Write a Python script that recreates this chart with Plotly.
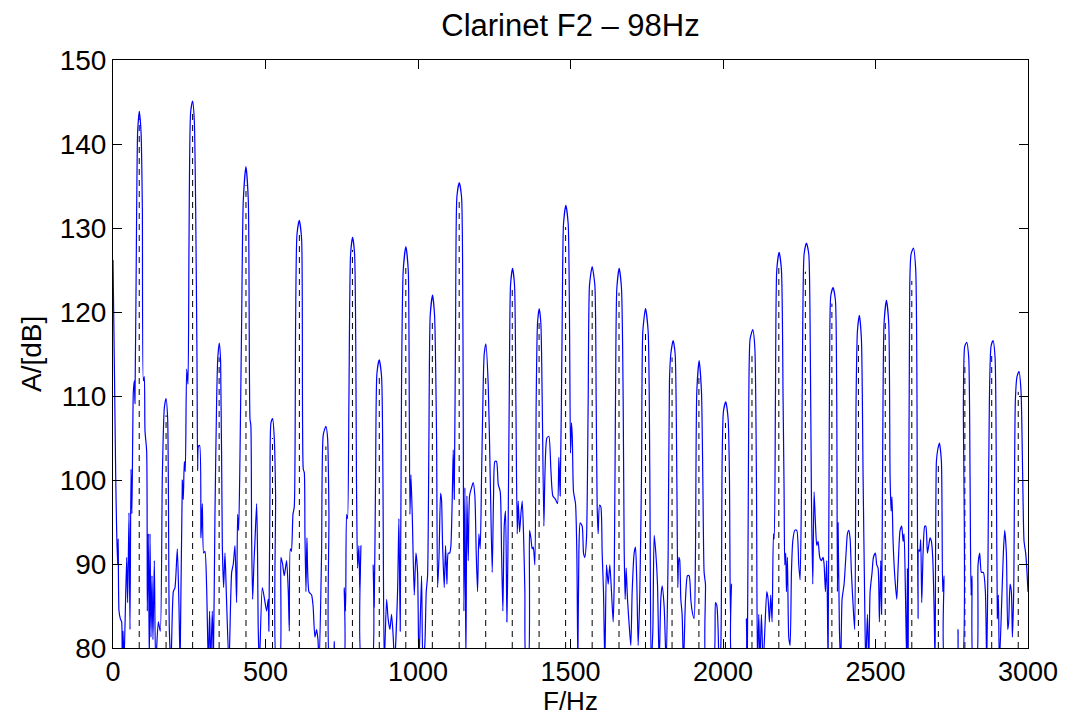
import plotly.graph_objects as go

# ---- data ----
TITLE = "Clarinet F2 \u2013 98Hz"
X_LABEL = "F/Hz"
Y_LABEL = "A/[dB]"

# spectrum curve (Hz, dB); values below 80 dB run off the bottom of the axis
freq = [
    0, 5, 9, 12, 15, 17, 19.7, 24, 28.4, 30, 33, 36, 44.8, 48, 52.5, 55.7, 59, 62, 66.7, 70, 72,
    77.6, 80.9, 86.3, 91.8, 96.2, 99.4, 102.7, 104.9, 110.4, 112.5, 115.8, 119.1, 121.3, 124.6,
    127.8, 131, 135.5, 139.9, 148.6, 155, 161.7, 168.3, 173.8, 179.2, 184.7, 190, 197.8, 203.2,
    210.9, 216.3, 220, 227.3, 230.5, 233.8, 237, 241.5, 245.8, 249.1, 254.6, 261.1, 266.6, 271,
    275.3, 277.5, 280, 284.1, 288.4, 292.8, 297.2, 301.5, 307, 312.5, 316.8, 320, 325.6, 329,
    334.3, 339.8, 343.5, 348.5, 352.9, 358.4, 362.7, 367.1, 372, 380.2, 389, 394.4, 399.9, 405.3,
    408.6, 412, 416.3, 421.7, 427.2, 435.9, 443.6, 449.1, 452, 454.5, 457.8, 462, 465.4, 471, 474,
    476, 480,
    489.4, 496, 503.6, 509, 511, 514.6, 517.8, 523.3, 528.8, 533.1, 536.4, 546, 550.6, 556, 561.5,
    569.2, 574.7, 578, 581.2, 585, 590, 594.3, 598.7, 603.1, 610.7, 618.4, 623.8, 627.1, 629.3,
    632.6, 635.8, 642.4, 651.1, 656, 662, 667.5, 672, 676, 683.9, 689.4, 698.1, 703.6, 708, 711.2,
    722, 725.4, 730, 755, 758.2, 762.6, 765.8, 769, 773.5, 779, 785.5, 792.1, 798.6, 801.9, 806.3,
    809.5, 812.8, 817.2, 847, 853.2, 856.5, 860.9, 865.3, 872.9, 880.6, 885, 889.3, 897, 902,
    907.9, 913.3, 918.8, 923, 933, 937.4, 941.7, 946.1, 951.6, 960.3, 968, 970.2, 973.5, 976.8,
    981.1, 987.7, 993.2, 998.6,
    1003, 1011.7, 1016, 1022.6, 1027, 1031.4, 1035.8, 1040.1, 1047.8, 1054.3, 1060.9, 1064.2, 1069,
    1074, 1077, 1080.6, 1086, 1090.4, 1094.8, 1099.1, 1104, 1107.9, 1112.2, 1115.5, 1118.8,
    1123.2, 1127.5, 1135.2, 1142.8, 1147.2, 1150.5, 1153.8, 1157, 1160.3, 1164.7, 1169, 1175.6,
    1181, 1186.5, 1190.9, 1195.3, 1199.6, 1204, 1208.4, 1213.8, 1217.1, 1222.6, 1230.2, 1236.8,
    1243.3, 1247.7, 1252.1, 1257.5, 1263, 1269.6, 1274, 1278.3, 1282.7, 1287, 1291.4, 1294.7,
    1299.1, 1303.4, 1310, 1316.5, 1320.9, 1325.3, 1328.6, 1333, 1337.3, 1341.7, 1346, 1350.4,
    1354.8, 1361, 1365.7, 1370.1, 1374.4, 1378, 1383.2, 1387.5, 1391.9, 1397.4, 1402.8, 1407.2,
    1412.7, 1416, 1422.5, 1429, 1435.6, 1442.2, 1450.9, 1457.5, 1461.8, 1466.2,
    1472.7, 1477.1, 1484.8, 1492.4, 1496.8, 1500.1, 1503.3, 1506, 1509.9, 1516.4, 1520.8, 1524.1,
    1527.4, 1531.7, 1538.3, 1542.7, 1547, 1552.5, 1558, 1562.3, 1571, 1579.8, 1584.2, 1587.4,
    1590.7, 1595.1, 1599.5, 1603.8, 1608.2, 1612.6, 1618, 1623.5, 1629, 1634.4, 1639.9, 1643.2,
    1647.5, 1651.9, 1659.6, 1667.2, 1672.7, 1676, 1679.2, 1682.5, 1686.9, 1693.4, 1697.8, 1702.2,
    1708.7, 1713.1, 1717.5, 1721.8, 1727.3, 1732.8, 1737.1, 1745.9, 1754.6, 1760.1, 1764.4,
    1769.9, 1774.3, 1779.7, 1785.2, 1790.7, 1796.1, 1800.5, 1807.1, 1813.6, 1820.2, 1824.5,
    1828.9, 1836.5, 1843.1, 1848.6, 1851.8, 1855.1, 1858, 1861.7, 1866, 1870.4, 1877, 1883.5,
    1889, 1894.4, 1898.8, 1905.4, 1909.7, 1914.1, 1921.8, 1929.4, 1933.8, 1938.1, 1942.5, 1945.8,
    1967.6, 1975.3, 1980, 1984, 1987.3, 1992.7, 1997.1, 2001.5, 2009.1, 2016.8, 2021.1, 2024.4,
    2027.7, 2032, 2071.4, 2076.9, 2080.1, 2084.5, 2088.9, 2097.6, 2104.2, 2109.6, 2112.9, 2117.3,
    2121, 2126, 2131.5, 2137, 2143.5, 2147.9, 2152.2, 2156.6, 2161, 2165.4, 2168, 2171.9, 2176.3,
    2184, 2191.6, 2197, 2200.3, 2202.5, 2205.8, 2208, 2211.2, 2215.6, 2220, 2224.4, 2228.7,
    2235.3, 2241.8, 2248.4, 2252.8, 2257.1, 2261.5, 2265.9, 2273.5, 2281.2, 2285.5, 2289.9,
    2294.3, 2298.6, 2303, 2307.4, 2311.7, 2317.2, 2322.7, 2328.1, 2331.4, 2335.8, 2340.2, 2344.5,
    2348.9, 2353.3, 2360.9, 2368.6, 2372.9, 2375.1, 2377.3, 2381.7, 2386, 2390.4, 2397, 2403.5,
    2407.9, 2412.3, 2416.6, 2421, 2427.6, 2431.9, 2436.3, 2440.7, 2447.2, 2453.8, 2459.3,
    2464.8, 2468, 2473.5, 2477.9, 2482.3, 2488.8, 2493.2, 2499.7, 2504.1, 2508.5, 2512.8, 2517.2,
    2520, 2523.8, 2528.1, 2535.8, 2543.4, 2547.8, 2551.1, 2554, 2557.6, 2563.1, 2569.7, 2574,
    2580.6, 2586, 2590.4, 2593.7, 2598.1, 2602.4, 2604.6, 2607, 2612.3, 2616.6, 2624.3, 2631.9,
    2637.4, 2639.6, 2641.8, 2645, 2648.3, 2651.6, 2656, 2661.4, 2665, 2670.2, 2674.5, 2678.9,
    2683.3, 2687.6, 2692, 2695.3, 2699.7, 2704, 2709.5, 2716.1, 2720.4, 2724.8, 2729.2, 2765.2,
    2770.7, 2774, 2783.8, 2788.2, 2792.5, 2799.1, 2805.6, 2810, 2813.3, 2816.6, 2821, 2830.8,
    2836.2, 2841.7, 2847.2, 2853.7, 2860.3, 2864.6, 2869, 2873.4, 2878.8, 2885.4, 2892, 2896.3,
    2899.6, 2902.9, 2906.2, 2914.9, 2919.2, 2923.6, 2929.1, 2933.5, 2936.7, 2941.1, 2945.5,
    2948.8, 2953.1, 2958.6, 2964, 2970.6, 2977.2, 2982.6, 2987, 2992.4, 2996.8, 3000,
]
amp = [
    126.2, 112, 100, 94, 90, 93, 84.4, 83.5, 83.1, 78, 82, 78, 90.8, 85.4, 96.1, 82.2, 101.3, 96, 110.5, 111.8, 109.1,
    132.4, 141.5, 143.9, 141.5, 132.4, 111.8, 112.3, 105.9, 103.4, 84.4, 93.6, 78, 93.6, 81.3,
    88.6, 81, 90.4, 78, 83.1, 82, 100.4, 108.6, 109.7, 107.3, 82.2, 78, 86.7, 87.2,
    91.8, 85, 78, 100, 97.7, 102.2, 101, 113.2, 111.4, 127.8, 143.8, 145.1, 142.8, 132.4,
    114.6, 101.1, 104, 104.1, 93.1, 97.2, 91.3, 91.5, 87.2, 78, 84.4, 78, 84.4, 78,
    95.9, 109.5, 114.5, 116.3, 114.1, 92.2, 87.2, 91.3, 86, 78, 89, 90, 92.2, 85.4,
    95.9, 94, 102.7, 118.7, 133.3, 137.3, 133.3, 107.3, 106.5, 93.1, 85.8, 90, 92.7, 97.2, 91,
    82.6, 78,
    87.2, 86, 84.4, 85.8, 82, 98.1, 106.8, 107.3, 105, 98.1, 78, 78, 90.8, 90, 88.6,
    90.4, 86.7, 82, 91.8, 91.5, 95.9, 96.8, 118.7, 129.2, 130.9, 128.7, 101.3, 100.9, 93.6,
    86.7, 93.1, 86.7, 86.3, 85, 81.3, 82.2, 81, 78, 91.3, 105.4, 106.4, 105, 95.9, 78,
    78, 80.8, 78, 78, 87.2, 84.4, 95.9, 95.4, 109.5, 126.9, 128.9, 126.9, 98.6, 89.5, 92.2,
    86.3, 92.2, 78, 78, 89.9, 84.9, 100.4, 112.7, 114.3, 112.3, 100.4, 78, 85.8, 83.5,
    82.2, 84, 81.3, 78, 86.7, 95.4, 82, 111.8, 125, 127.8, 125, 118.7, 95.9, 100.6,
    95.9, 86.3, 91.3, 89,
    78, 88.6, 78, 80.5, 86.7, 88.6, 105, 119.6, 122, 119.6, 105, 87.2, 91,
    98.4, 97.7, 92.2, 87.2, 92.2, 87.6, 91.3, 91.3, 92.2, 97.7, 103.6, 97.7,
    118.7, 133.7, 135.4, 133.7, 118.7, 84.4, 99.1, 78, 98.1, 90.4, 98.1, 99.1,
    99.7, 98.1, 91.3, 86.7, 93.6, 91.8, 100.4, 111.4, 115, 116.2, 111.4, 100.4,
    89, 98.1, 102.2, 102.2, 99.5, 98.6, 91.3, 84.4, 94.5, 96.3, 83.1, 91,
    109.5, 123.2, 125.2, 123.2, 109.5, 93.6, 97.5, 93.8, 95.9, 97.5, 93.6, 86.7,
    78, 78, 94, 93.1, 91.8, 92, 89.9, 109.5, 118.7, 120.4, 118.7, 109.5,
    94.5, 100.4, 105, 105.2, 101.3, 98.1, 97.7, 97.2, 102.7, 98.1,
    118.7, 130.5, 132.7, 130.5, 118.7, 103.2, 106.8, 105, 98.6, 97.2, 91.3, 78,
    91.3, 94.9, 94.5, 91.3, 90.8, 93.1, 109.5, 123.2, 125.4, 123.2, 109.5, 96.8,
    93.6, 97, 96.8, 91.3, 86.7, 78, 89.9, 87.6, 89.9, 86.7, 83.1, 87.6,
    109.5, 122.8, 125.2, 122.8, 109.5, 91.7, 85.8, 89.5, 85.8, 82.2, 80.3, 86.7,
    91.3, 92, 87.6, 80.3, 86.7, 100.4, 117.7, 120.4, 117.7, 100.4, 78,
    82, 93.4, 91.3, 87.6, 78, 85.8, 87.4, 84.9, 78, 91.3, 111.8,
    115, 116.6, 115, 100.4, 87.2, 90.8, 90.5, 85.8, 84, 78, 85.8, 88.6,
    88.6, 85.8, 84.4, 83.5, 91.3, 110.5, 114.2, 110.5, 100.4, 89, 87.6, 78,
    78, 85.4, 85, 82.2, 78, 80, 102.2, 108.2, 109.3, 107.3, 100.4, 83.1,
    87.6, 78, 78, 83.5, 80, 109.5, 116.8, 117.9, 115.9, 100.4, 78, 84,
    78, 84, 78, 82, 86.7, 85.8, 83.1, 86.3, 83.1, 93.6, 93, 109.5, 125,
    127.1, 125, 109.5, 98.6, 89.9, 91.3, 86.7, 90.8, 81.3, 80.3, 89, 92.7,
    94, 94, 89.9, 88.1, 98.1, 118.7, 126.9, 128.2, 126.9, 118.7, 98.1,
    87.6, 98.6, 94.9, 92.2, 92.7, 90.8, 90.4, 90.8, 90, 86.7, 90.4, 78,
    109.5, 121.9, 122.9, 121.4, 109.5, 86.7, 94.9, 82.2, 78, 85.8, 87.6, 91.3,
    93.6, 94, 93.1, 89, 84.4, 82.2, 109.5, 117.7, 119.6, 116.8, 100.4,
    84.9, 78, 84, 78, 86.7, 89, 90.8, 91.3, 89.9, 89.5, 83.1, 90.4,
    84, 105, 118.7, 121.4, 118.7, 100.4, 96.3, 98, 92.7, 88.6, 85.8, 89.5,
    94, 94.5, 92.7, 93.6, 86.7, 78, 89.5, 78, 123.2, 126.9, 127.6, 125,
    95.9, 83.5, 91.7, 91.5, 92.9, 85.4, 91.3, 94.5, 94.5, 91.3, 92.2, 93.1,
    92.7, 90.8, 84.9, 78, 102.2, 103.6, 104.4, 102.2, 86.7, 88.6, 78, 78,
    82.2, 78, 78, 109.5, 115.9, 116.4, 114.6, 100.4, 86.3, 88.6, 78, 78,
    89.9, 91.3, 89, 89, 86.7, 78, 91.3, 109.5, 115.9, 116.6, 114.6, 100.4,
    83.5, 86.3, 78, 86.7, 91.3, 94, 91.3, 82.2, 83.1, 87.6, 86.7,
    81.3, 86.7, 109.5, 112.3, 112.9, 110.5, 100.4, 92.7, 91.3, 89, 86.7,
]

# harmonic markers (dashed stems): frequency (Hz) and level (dB)
harm_freq = [86, 174, 261, 348, 436, 523, 611, 698, 785, 873, 960, 1047, 1135, 1222, 1309,
             1397, 1484, 1571, 1659, 1746, 1833, 1921, 2008, 2095, 2183, 2270, 2357, 2444,
             2532, 2619, 2706, 2793, 2881, 2968]
harm_amp = [143.1, 107.7, 143.7, 114.6, 135.1, 105.0, 129.2, 104.0, 127.4, 112.3, 125.7, 119.2,
            133.7, 112.3, 123.2, 118.7, 130.1, 123.2, 122.3, 117.7, 114.6, 112.3, 106.8, 115.0,
            125.3, 124.8, 121.0, 116.4, 119.2, 123.7, 102.2, 114.1, 115.0, 110.5]

x_ticks = [0, 500, 1000, 1500, 2000, 2500, 3000]
y_ticks = [80, 90, 100, 110, 120, 130, 140, 150]
Y_MIN, Y_MAX = 80, 150
X_MIN, X_MAX = 0, 3000

assert len(freq) == len(amp), (len(freq), len(amp))

# ---- figure ----
stem_x, stem_y = [], []
for f, a in zip(harm_freq, harm_amp):
    stem_x += [f, f, None]
    stem_y += [Y_MIN, a, None]

fig = go.Figure()
fig.add_trace(go.Scatter(
    x=stem_x, y=stem_y, mode="lines",
    line=dict(color="black", width=1, dash="6px,5px"),
    hoverinfo="skip", showlegend=False,
))
fig.add_trace(go.Scatter(
    x=freq, y=amp, mode="lines",
    line=dict(color="#0000ff", width=1.2, shape="spline", smoothing=0.6),
    showlegend=False,
))

FONT = "Liberation Sans, Arial, Helvetica, sans-serif"
# the html page body has an 8px margin, so the figure is drawn 8px in from the window corner
W, H = 1060, 707
ML, MR, MT, MB = 105, 40, 52, 67
PW, PH = W - ML - MR, H - MT - MB

axis_common = dict(
    showgrid=False, zeroline=False, showline=True, linecolor="black", linewidth=1,
    mirror="allticks", ticks="inside", ticklen=9, tickcolor="black", tickwidth=1,
    automargin=False,
)
fig.update_layout(
    width=W, height=H,
    margin=dict(l=ML, r=MR, t=MT, b=MB, autoexpand=False),
    paper_bgcolor="white", plot_bgcolor="white",
    title=dict(text=TITLE, x=0.5, xref="paper", xanchor="center", y=1 - 17 / H, yanchor="middle",
               yref="container", font=dict(family=FONT, size=31, color="black")),
    xaxis=dict(range=[X_MIN, X_MAX], tickvals=x_ticks, ticktext=[str(t) for t in x_ticks],
               tickfont=dict(family=FONT, size=27, color="black"), **axis_common),
    yaxis=dict(range=[Y_MIN, Y_MAX], tickvals=y_ticks, ticktext=[str(t) for t in y_ticks],
               tickfont=dict(family=FONT, size=28, color="black"), **axis_common),
    annotations=[
        dict(text=X_LABEL, xref="paper", yref="paper", x=0.5, y=-53 / PH,
             xanchor="center", yanchor="middle", showarrow=False,
             font=dict(family=FONT, size=26, color="black")),
        dict(text=Y_LABEL, xref="paper", yref="paper", x=-(113 - 31) / PW, y=0.5,
             xanchor="center", yanchor="middle", textangle=-90, showarrow=False,
             font=dict(family=FONT, size=28, color="black")),
    ],
)
fig.write_html("out.html")
